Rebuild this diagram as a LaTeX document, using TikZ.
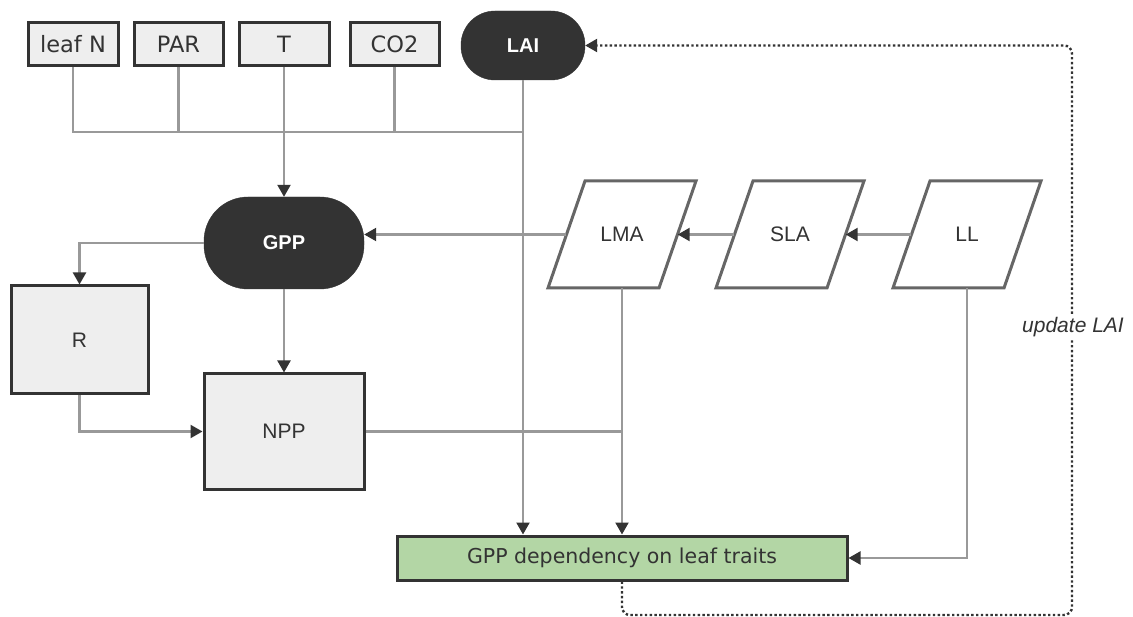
\documentclass[tikz,border=0pt]{standalone}
\usepackage{fontspec}
\setmainfont{Liberation Sans}
\newfontfamily\vfont{DejaVu Sans}
\usetikzlibrary{arrows.meta,calc}
\definecolor{dk}{HTML}{333333}
\definecolor{ln}{HTML}{999999}
\definecolor{bx}{HTML}{EEEEEE}
\definecolor{pg}{HTML}{666666}
\definecolor{gr}{HTML}{B3D6A5}
\begin{document}
\begin{tikzpicture}[x=1pt,y=-1pt,
  inbox/.style={draw=dk, line width=3pt, fill=bx, minimum width=89pt, minimum height=43pt, inner sep=0pt, text=dk, font=\vfont\fontsize{22.5}{26}\selectfont},
  darkpill/.style={fill=dk, draw=dk, inner sep=0pt, text=white, font=\bfseries\fontsize{20}{24}\selectfont},
  greybox/.style={draw=dk, line width=3pt, fill=bx, inner sep=0pt, text=dk, font=\fontsize{21}{25}\selectfont},
  para/.style={minimum width=111pt, minimum height=107pt, inner sep=0pt, text=dk, font=\fontsize{21}{25}\selectfont},
  paraline/.style={draw=pg, line width=3pt, fill=white, line join=miter},
  greenbox/.style={draw=dk, line width=3pt, fill=gr, minimum width=450pt, minimum height=44pt, inner sep=0pt, text=dk, font=\vfont\fontsize{20.5}{24}\selectfont},
  conn/.style={draw=ln, line width=2.2pt},
  arr/.style={conn, -{Triangle[length=12pt,width=13pt,color=dk]}},
  loop/.style={draw=dk, line width=2.4pt, dash pattern=on 2.4pt off 2.4pt, rounded corners=8pt, -{Triangle[length=12pt,width=13pt,color=dk]}},
  lbl/.style={fill=white, inner sep=2pt, text=dk, font=\itshape\fontsize{21}{25}\selectfont}
]
\useasboundingbox (0,0) rectangle (1133,617);

% top inputs
\node[inbox, minimum width=90pt] (leafN) at (73,44.5) {leaf N};
\node[inbox] (par) at (178.5,44.5) {PAR};
\node[inbox, minimum width=90pt] (t) at (284,44.5) {T};
\node[inbox] (co2) at (394.5,44.5) {CO2};
\node[darkpill, minimum width=124pt, minimum height=69pt, rounded corners=34pt] (lai) at (523,45.5) {LAI};

% main nodes
\node[darkpill, minimum width=160pt, minimum height=92pt, rounded corners=44pt] (gpp) at (284,243) {GPP};
\node[greybox, minimum width=137pt, minimum height=108pt] (r) at (79.5,340) {R};
\node[greybox, minimum width=160pt, minimum height=115pt] (npp) at (284,431.5) {NPP};

% parallelograms (outline drawn around each node's position)
\foreach \p/\xx in {lma/622, sla/790, ll/967}{
  \coordinate (\p-c) at (\xx,234.5);
  \draw[paraline] ($(\p-c)+(-37,-53.5)$) -- ($(\p-c)+(74,-53.5)$) -- ($(\p-c)+(37,53.5)$) -- ($(\p-c)+(-74,53.5)$) -- cycle;
}
\node[para] (lma) at (lma-c) {LMA};
\node[para] (sla) at (sla-c) {SLA};
\node[para] (ll) at (ll-c) {LL};

\node[greenbox] (gdep) at (622,558) {GPP dependency on leaf traits};

% bus of inputs
\coordinate (bus) at ($(lai.south)+(0,52)$);
\draw[conn] (leafN.south) |- (bus);
\draw[conn] (par.south) -- (par.south |- bus);
\draw[conn] (co2.south) -- (co2.south |- bus);
\draw[arr] (t.south) -- (gpp.north);
\draw[arr] (lai.south) -- (lai.south |- gdep.north);

% GPP branches
\draw[arr] (gpp.west) -| (r.north);
\draw[arr] (r.south) |- (npp.west);
\draw[arr] (gpp.south) -- (npp.north);

% leaf traits chain
\draw[arr] (lma.west) -- (lma.west -| gpp.east);
\draw[arr] (sla.west) -- (lma.east);
\draw[arr] (ll.west) -- (sla.east);

% to green box
\draw[conn] (npp.east) -- (npp.east -| lma.south);
\draw[arr] (lma.south) -- (lma.south |- gdep.north);
\draw[arr] (ll.south) |- (gdep.east);

% update loop
\coordinate (c1) at (gdep.south |- 0,615);
\coordinate (c2) at (1072,615);
\coordinate (c3) at (1072,45.5);
\draw[loop] (gdep.south) -- (c1) -- (c2) -- (c3) -- (lai.east);
\node[lbl] (upd) at (1073,327) {update LAI};
\end{tikzpicture}
\end{document}
